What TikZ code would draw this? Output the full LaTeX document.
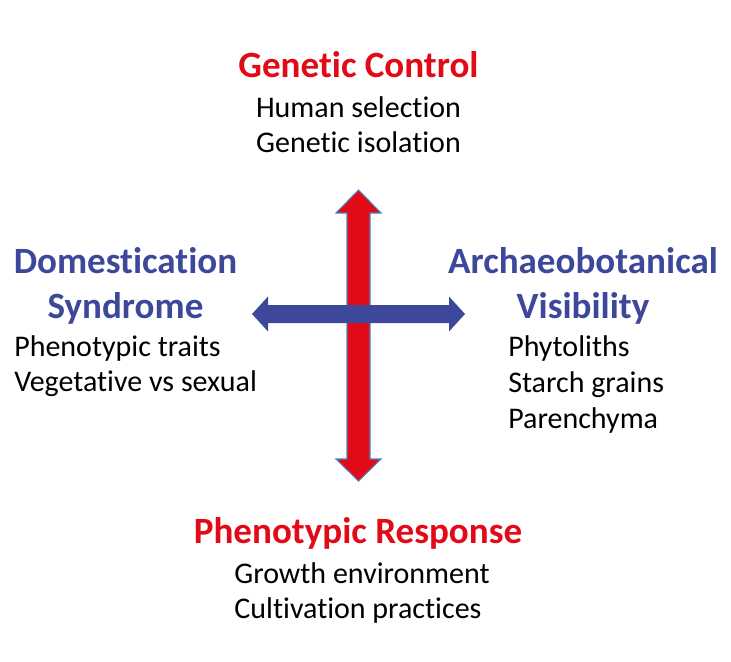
\documentclass[tikz,border=0pt]{standalone}
\usepackage{fontspec}
\setmainfont{Carlito}[Ligatures=NoCommon]
\usepackage{tikz}
\definecolor{rojo}{RGB}{226,10,22}
\definecolor{azul}{RGB}{61,72,154}
\definecolor{borde}{RGB}{79,129,189}
\tikzstyle{titulo} = [inner sep=0pt, font=\fontsize{27.8}{33}\selectfont\bfseries]
\tikzstyle{titulorojo} = [titulo, text=rojo]
\tikzstyle{tituloazul} = [titulo, text=azul]
\tikzstyle{texto} = [inner sep=0pt, text=black, font=\fontsize{22.5}{27}\selectfont]

\begin{document}
\begin{tikzpicture}[x=0.75pt, y=-0.75pt]
		\useasboundingbox (0,0) rectangle (731,661);
		% flecha vertical
		\coordinate (arriba) at (358.5,190);
		\coordinate (abajo) at (358.5,481);
		\draw[borde, line width=0.8pt, fill=rojo] (arriba) -- ++(22.5,23) -- ++(-11,0) -- ++(0,246)
			-- ++(11,0) -- (abajo) -- ++(-22.5,-22) -- ++(11,0) -- ++(0,-246) -- ++(-11,0) -- cycle;
		% flecha horizontal
		\coordinate (izq) at (252,314);
		\coordinate (der) at (465,314);
		\fill[azul] (izq) -- ++(16,-17.5) -- ++(0,8.5) -- ++(181,0) -- ++(0,-8.5) -- (der)
			-- ++(-16,17.5) -- ++(0,-8.5) -- ++(-181,0) -- ++(0,8.5) -- cycle;
		% textos
		\node[titulorojo, anchor=base] (control) at (358.5,77) {Genetic Control};
		\node[texto, anchor=base] (seleccion) at (358.5,117) {Human selection};
		\node[texto, anchor=base] (aislamiento) at (358.5,152) {Genetic isolation};
		\node[tituloazul, anchor=base] (domest) at (125.5,273) {Domestication};
		\node[tituloazul, anchor=base] (sindrome) at (125.5,318) {Syndrome};
		\node[texto, anchor=base west] (rasgos) at (14,356) {Phenotypic traits};
		\node[texto, anchor=base west] (vegetativo) at (14,391) {Vegetative vs sexual};
		\node[tituloazul, anchor=base] (arqueo) at (583,273) {Archaeobotanical};
		\node[tituloazul, anchor=base] (visib) at (583,318) {Visibility};
		\node[texto, anchor=base west] (fitolitos) at (508,356) {Phytoliths};
		\node[texto, anchor=base west] (almidon) at (508,392) {Starch grains};
		\node[texto, anchor=base west] (parenq) at (508,428) {Parenchyma};
		\node[titulorojo, anchor=base] (respuesta) at (358,543) {Phenotypic Response};
		\node[texto, anchor=base] (ambiente) at (362,583) {Growth environment};
		\node[texto, anchor=base] (cultivo) at (358,618) {Cultivation practices};
	\end{tikzpicture}
\end{document}
